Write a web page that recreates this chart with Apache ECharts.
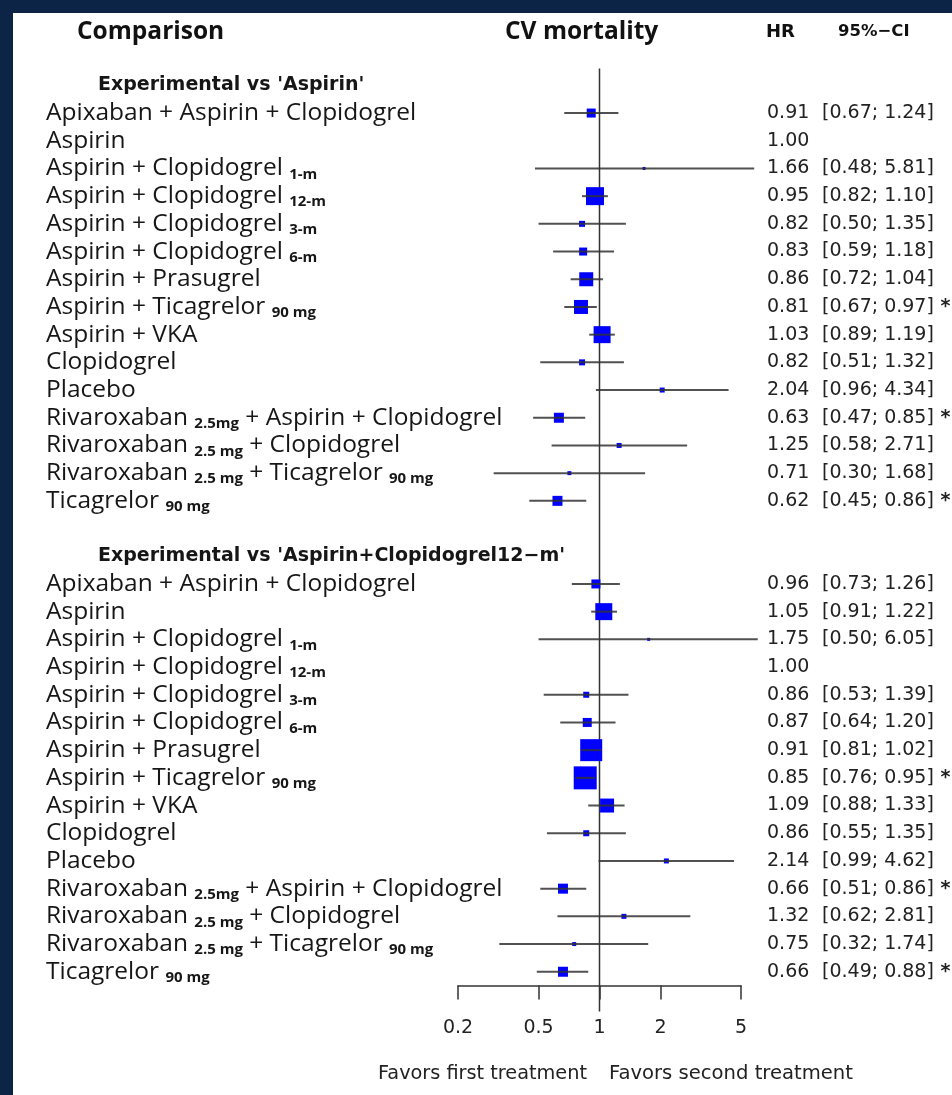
<!DOCTYPE html>
<html><head><meta charset="utf-8">
<script src="https://cdn.jsdelivr.net/npm/echarts@6/dist/echarts.min.js"></script>
<style>html,body{margin:0;padding:0;background:#0c2546;} #chart{width:952px;height:1095px;}</style>
</head><body><div id="chart"></div>
<script>
// ---- data ----
const treatments = [
  'Apixaban + Aspirin + Clopidogrel',
  'Aspirin',
  'Aspirin + Clopidogrel _{1-m}',
  'Aspirin + Clopidogrel _{12-m}',
  'Aspirin + Clopidogrel _{3-m}',
  'Aspirin + Clopidogrel _{6-m}',
  'Aspirin + Prasugrel',
  'Aspirin + Ticagrelor _{90 mg}',
  'Aspirin + VKA',
  'Clopidogrel',
  'Placebo',
  'Rivaroxaban _{2.5mg} + Aspirin + Clopidogrel',
  'Rivaroxaban _{2.5 mg} + Clopidogrel',
  'Rivaroxaban _{2.5 mg} + Ticagrelor _{90 mg}',
  'Ticagrelor _{90 mg}'
];
const groupTitles = ["Experimental vs 'Aspirin'", "Experimental vs 'Aspirin+Clopidogrel12\u2212m'"];
const hr1 = [0.91, 1.00, 1.66, 0.95, 0.82, 0.83, 0.86, 0.81, 1.03, 0.82, 2.04, 0.63, 1.25, 0.71, 0.62];
const lo1 = [0.67, null, 0.48, 0.82, 0.50, 0.59, 0.72, 0.67, 0.89, 0.51, 0.96, 0.47, 0.58, 0.30, 0.45];
const hi1 = [1.24, null, 5.81, 1.10, 1.35, 1.18, 1.04, 0.97, 1.19, 1.32, 4.34, 0.85, 2.71, 1.68, 0.86];
const weight1 = [15.3, 0, 1.7, 61.2, 6.8, 12.1, 37.0, 37.0, 54.6, 6.8, 4.7, 18.9, 4.7, 3.0, 18.9];
const hr2 = [0.96, 1.05, 1.75, 1.00, 0.86, 0.87, 0.91, 0.85, 1.09, 0.86, 2.14, 0.66, 1.32, 0.75, 0.66];
const lo2 = [0.73, 0.91, 0.50, null, 0.53, 0.64, 0.81, 0.76, 0.88, 0.55, 0.99, 0.51, 0.62, 0.32, 0.49];
const hi2 = [1.26, 1.22, 6.05, null, 1.39, 1.20, 1.02, 0.95, 1.33, 1.35, 4.62, 0.86, 2.81, 1.74, 0.88];
const weight2 = [15.3, 54.6, 1.7, 0, 6.8, 15.3, 91.5, 100, 37.0, 6.8, 4.7, 18.9, 4.7, 3.0, 18.9];
const xTicks = [0.2, 0.5, 1, 2, 5];
const xRange = [0.2, 5];

// ---- build rows ----
const rows = [];
function addGroup(title, hr, lo, hi, w) {
  rows.push({kind: 'h', text: title});
  treatments.forEach((t, i) => rows.push({kind: 'd', label: t, hr: hr[i], lo: lo[i], hi: hi[i], w: w[i]}));
}
addGroup(groupTitles[0], hr1, lo1, hi1, weight1);
rows.push({kind: 'b'});
addGroup(groupTitles[1], hr2, lo2, hi2, weight2);
const cats = rows.map((r, i) => 'r' + i);
const L = Math.log10;

function leftLabel(r) {
  if (r.kind === 'h') return '{h|' + r.text + '}';
  if (r.kind === 'b') return '';
  const parts = r.label.split(/_\{([^}]*)\}/);
  let s = '';
  parts.forEach((p, k) => { if (p === '') return; s += (k % 2 ? '{s|' : '{n|') + p + '}'; });
  return s;
}
function rightLabel(r) {
  if (r.kind !== 'd') return '';
  let s = '{hr|' + r.hr.toFixed(2) + '}';
  if (r.lo != null) {
    s += '{ci|[' + r.lo.toFixed(2) + '; ' + r.hi.toFixed(2) + ']}';
    if (r.hi < 1 || r.lo > 1) s += '{st| *}';
  }
  return s;
}

const ciData = [], ptData = [];
rows.forEach((r, i) => {
  if (r.kind !== 'd') return;
  if (r.lo != null) ciData.push([L(r.lo), L(r.hi), i]);
  if (r.w > 0) ptData.push([L(r.hr), i, r.w]);
});

const chart = echarts.init(document.getElementById('chart'), null, {renderer: 'canvas'});
const numFont = 'DejaVu Sans';
chart.setOption({
  backgroundColor: '#0c2546',
  animation: false,
  graphic: [{type: 'rect', z: -10, shape: {x: 13, y: 13, width: 939, height: 1082}, style: {fill: '#ffffff'}}],
  title: [
    {text: 'Comparison', left: 77, top: 20, padding: 0, textStyle: {fontFamily: 'Open Sans', fontWeight: 'bold', fontSize: 24.5, color: '#111'}},
    {text: 'CV mortality', left: 505, top: 20, padding: 0, textStyle: {fontFamily: 'Open Sans', fontWeight: 'bold', fontSize: 24.5, color: '#111'}},
    {text: 'HR', left: 766, top: 23, padding: 0, textStyle: {fontFamily: numFont, fontWeight: 'bold', fontSize: 18, color: '#111'}},
    {text: '95%\u2212CI', left: 838, top: 23, padding: 0, textStyle: {fontFamily: numFont, fontWeight: 'bold', fontSize: 16.5, color: '#111'}},
    {text: 'Favors first treatment', left: 378, top: 1064, padding: 0, textStyle: {fontFamily: numFont, fontWeight: 'normal', fontSize: 19.3, color: '#222'}},
    {text: 'Favors second treatment', left: 609, top: 1064, padding: 0, textStyle: {fontFamily: numFont, fontWeight: 'normal', fontSize: 19.6, color: '#222'}}
  ],
  grid: {left: 458, right: 211, top: 71.5, height: 914.1, containLabel: false, outerBoundsMode: 'none'},
  xAxis: {
    type: 'value', min: L(xRange[0]), max: L(xRange[1]),
    splitLine: {show: false},
    axisLine: {show: true, lineStyle: {color: '#333', width: 1.5}},
    axisTick: {show: true, length: 14, lineStyle: {color: '#333', width: 1.5}, customValues: xTicks.map(L)},
    axisLabel: {customValues: xTicks.map(L), margin: 33, fontFamily: numFont, fontSize: 19, color: '#222',
      formatter: v => String(parseFloat(Math.pow(10, v).toPrecision(2)))}
  },
  yAxis: [{
    type: 'category', data: cats, inverse: true,
    axisLine: {show: false}, axisTick: {show: false}, splitLine: {show: false},
    axisLabel: {
      interval: 0, align: 'left', margin: 412,
      formatter: (v, i) => leftLabel(rows[i]),
      rich: {
        n: {fontFamily: 'Open Sans', fontSize: 24.5, color: '#161616', lineHeight: 27},
        s: {fontFamily: 'Open Sans', fontSize: 15, fontWeight: 'bold', color: '#161616', lineHeight: 12, verticalAlign: 'bottom'},
        h: {fontFamily: numFont, fontSize: 19, fontWeight: 'bold', color: '#161616', lineHeight: 27, padding: [0, 0, 0, 52]}
      }
    }
  }, {
    type: 'category', data: cats, inverse: true, position: 'right',
    axisLine: {show: false}, axisTick: {show: false}, splitLine: {show: false},
    axisLabel: {
      interval: 0, align: 'left', margin: 26,
      formatter: (v, i) => rightLabel(rows[i]),
      rich: {
        hr: {fontFamily: numFont, fontSize: 19, color: '#222', width: 55, align: 'left'},
        ci: {fontFamily: numFont, fontSize: 19, color: '#222'},
        st: {fontFamily: numFont, fontSize: 19, fontWeight: 'bold', color: '#222'}
      }
    }
  }],
  series: [
    {
      type: 'custom', name: 'ref', z: 1, clip: false,
      data: [[L(1)]],
      renderItem: (params, api) => {
        const x = api.coord([api.value(0), 0])[0];
        const cs = params.coordSys;
        return {type: 'line', shape: {x1: x, y1: cs.y - 3, x2: x, y2: cs.y + cs.height + 26},
          style: {stroke: '#333', lineWidth: 1.5}};
      }
    },
    {
      type: 'scatter', name: 'HR', z: 2, symbol: 'rect',
      data: ptData,
      symbolSize: val => 2.3 * Math.sqrt(val[2]),
      itemStyle: {color: '#0000ff', opacity: 1},
      emphasis: {disabled: true}
    },
    {
      type: 'custom', name: 'CI', z: 3, clip: false,
      data: ciData,
      encode: {x: [0, 1], y: 2},
      renderItem: (params, api) => {
        const p1 = api.coord([api.value(0), api.value(2)]);
        const p2 = api.coord([api.value(1), api.value(2)]);
        return {type: 'line', shape: {x1: p1[0], y1: p1[1], x2: p2[0], y2: p2[1]},
          style: {stroke: '#333', lineWidth: 2, opacity: 0.85}};
      }
    }
  ]
});
</script></body></html>
